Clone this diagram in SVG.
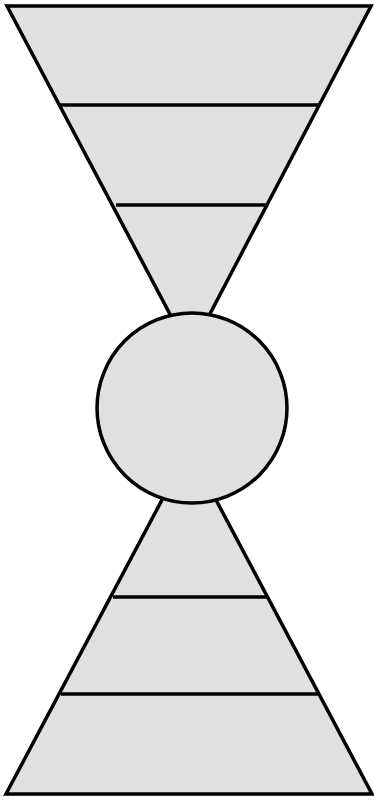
<svg xmlns="http://www.w3.org/2000/svg" width="374" height="800" viewBox="0 0 374 800">
<style>
.s{fill:#e0e0e0;stroke:#000;stroke-width:3.5;stroke-linejoin:miter}
.l{fill:none;stroke:#000;stroke-width:3.5}
</style>
<rect width="374" height="800" fill="#fff"/>
<g id="top-funnel">
<polygon class="s" points="7,6 371,6 190,352"/>
</g>
<g id="bottom-pyramid">
<polygon class="s" points="6,794 372,794 189,449"/>
</g>
<g id="dividers">
<line class="l" x1="59" y1="105" x2="319" y2="105"/>
<line class="l" x1="116" y1="205" x2="268" y2="205"/>
<line class="l" x1="113" y1="597" x2="267" y2="597"/>
<line class="l" x1="61" y1="694" x2="318" y2="694"/>
</g>
<g id="center-circle">
<circle class="s" cx="192" cy="408" r="95"/>
</g>
</svg>
